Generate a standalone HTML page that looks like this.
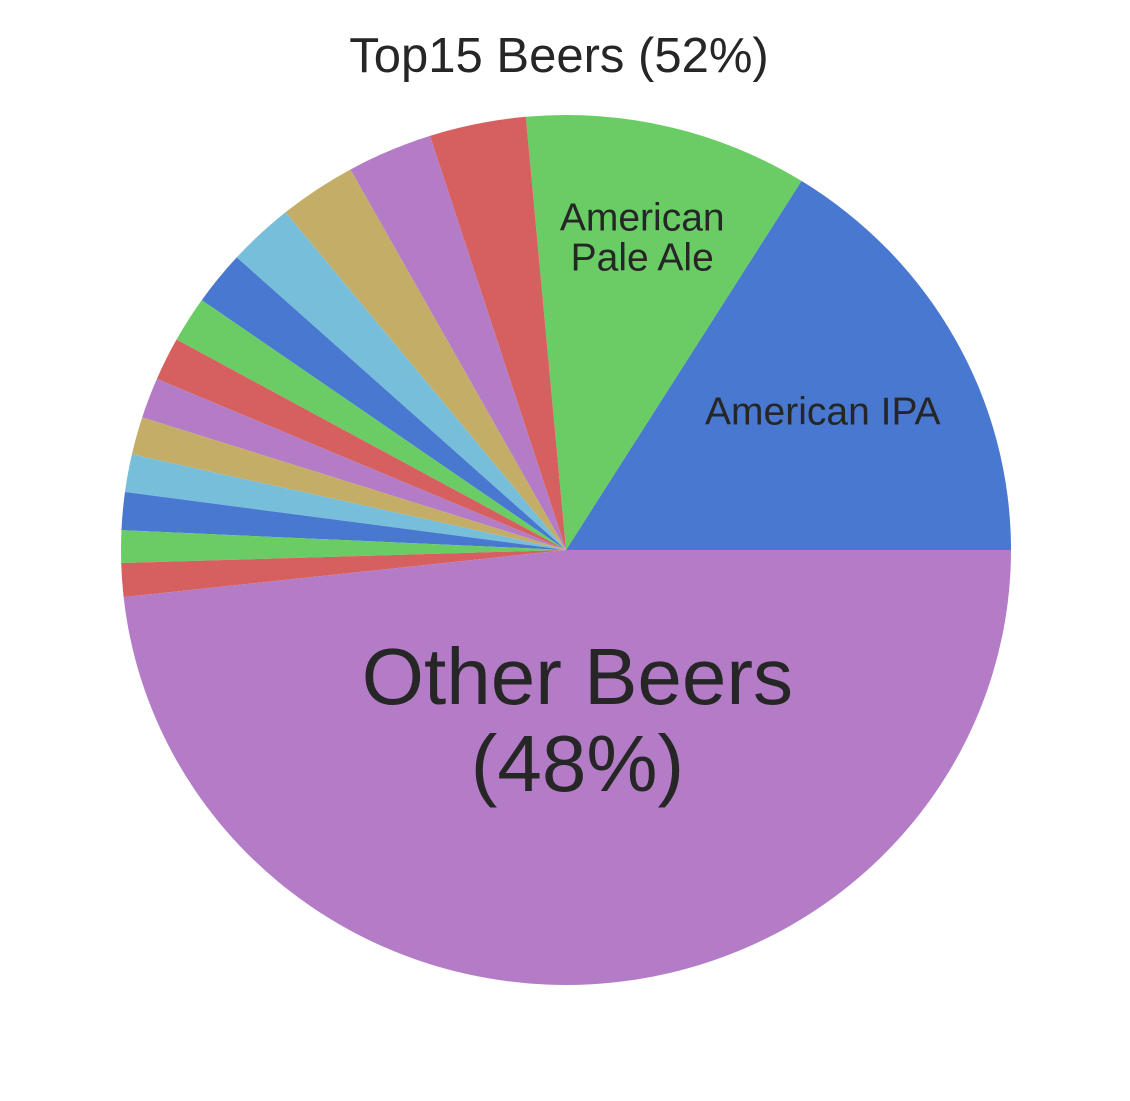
<!DOCTYPE html>
<html><head><meta charset="utf-8"><style>
html,body{margin:0;padding:0;background:#fff;}
svg{display:block;font-family:"Liberation Sans",Arial,sans-serif;}
</style></head><body>
<svg id="chart" width="1130" height="1101" viewBox="0 0 1130 1101">
<text x="559" y="72" text-anchor="middle" font-size="49" fill="#262626">Top15 Beers (52%)</text>
<g id="slices"></g>
<g id="labels"></g>
</svg>
<script>
const categories = ["American IPA","American Pale Ale","Beer 3","Beer 4","Beer 5","Beer 6","Beer 7","Beer 8","Beer 9","Beer 10","Beer 11","Beer 12","Beer 13","Beer 14","Beer 15","Other Beers"];
const values = [16.1,10.3,3.5,3.1,2.8,2.4,2.0,1.7,1.6,1.5,1.4,1.4,1.4,1.2,1.25,48.2];
const shownLabels = ["American IPA","American\nPale Ale","","","","","","","","","","","","","","Other Beers\n(48%)"];
const palette = ["#4878cf","#6acc65","#d65f5f","#b47cc7","#c4ad66","#77bedb"];
const cx=566, cy=550, rx=445, ry=435;
const NS="http://www.w3.org/2000/svg";
const total = values.reduce((a,b)=>a+b,0);
function pt(angDeg,f){const a=angDeg*Math.PI/180;return [cx+rx*f*Math.cos(a), cy-ry*f*Math.sin(a)];}
const gS=document.getElementById('slices'), gL=document.getElementById('labels');
let start=0;
values.forEach((v,i)=>{
  const sweep=v/total*360, end=start+sweep;
  const p0=pt(start,1), p1=pt(end,1);
  const large=sweep>180?1:0;
  const path=document.createElementNS(NS,'path');
  path.setAttribute('d',`M${cx},${cy} L${p0[0]},${p0[1]} A${rx},${ry} 0 ${large} 0 ${p1[0]},${p1[1]} Z`);
  path.setAttribute('fill',palette[i%palette.length]);
  
  
  gS.appendChild(path);
  const lab=shownLabels[i];
  if(lab){
    const big=i===values.length-1;
    const f=big?0.39:(sweep>45?0.66:0.74);
    const mid=(start+end)/2;
    const p=pt(mid,f);
    const lines=lab.split("\n");
    const fs=big?80:39, lh=big?87:40;
    const t=document.createElementNS(NS,'text');
    t.setAttribute('text-anchor','middle');
    t.setAttribute('font-size',fs);
    t.setAttribute('fill','#262626');
    
    
    const y0=p[1]-(lines.length-1)*lh/2+fs*0.35;
    lines.forEach((ln,k)=>{
      const ts=document.createElementNS(NS,'tspan');
      ts.setAttribute('x',p[0]+(big?2:0));
      ts.setAttribute('y',y0+k*lh);
      ts.textContent=ln;
      t.appendChild(ts);
    });
    gL.appendChild(t);
  }
  start=end;
});
</script>
</body></html>
